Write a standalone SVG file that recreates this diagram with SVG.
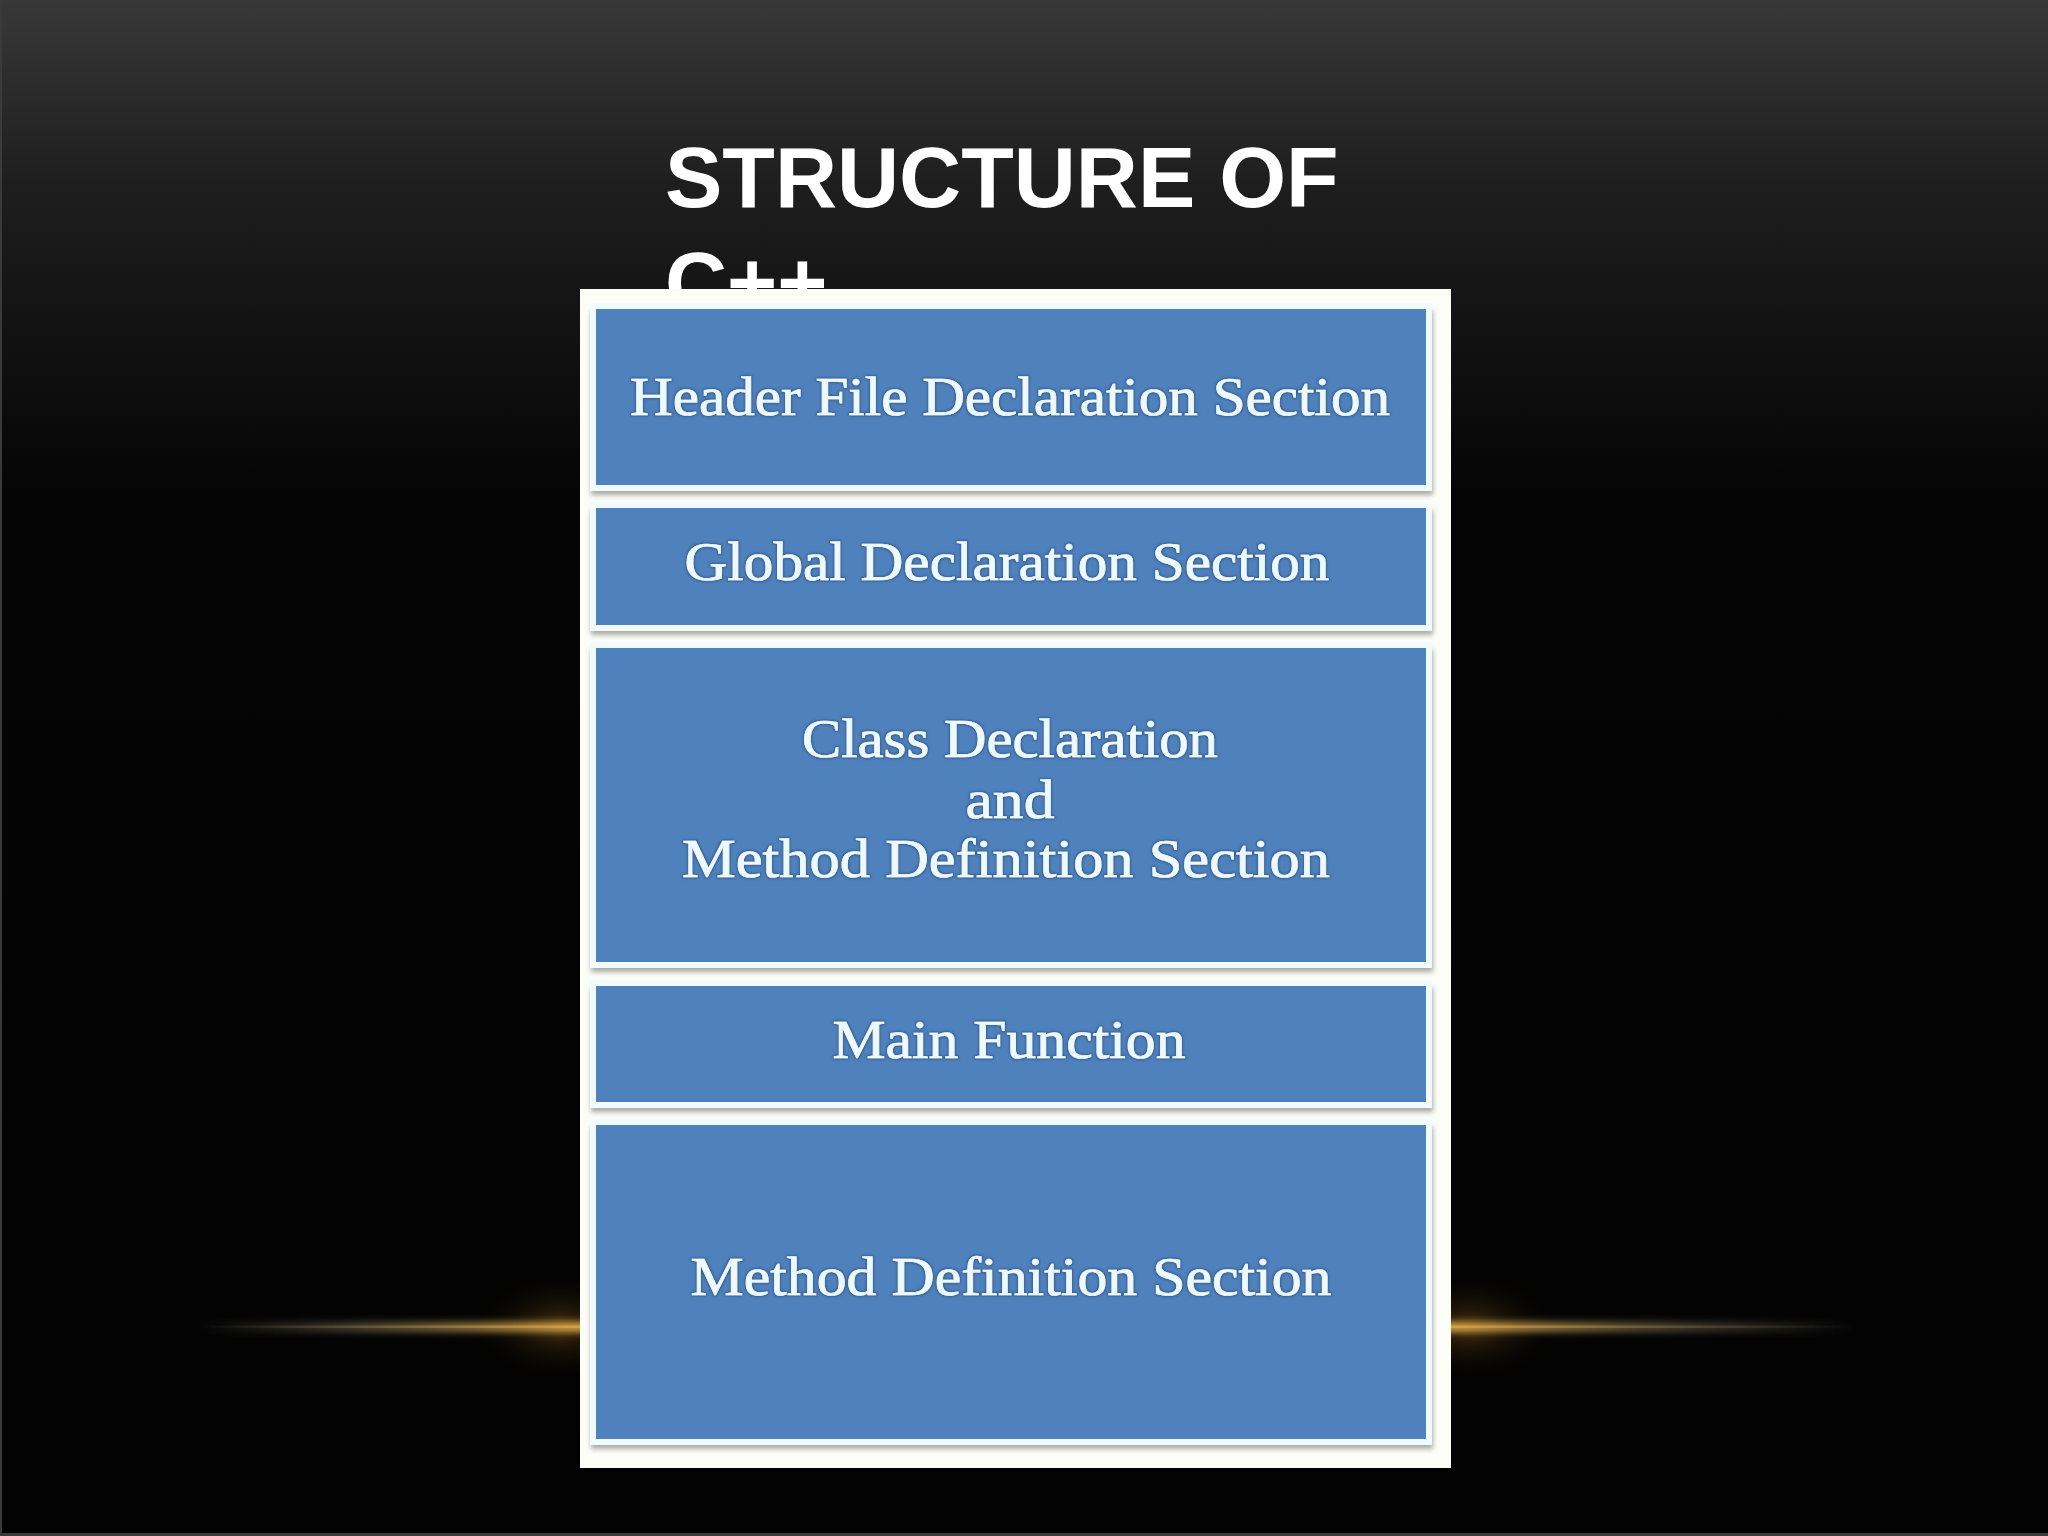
<svg xmlns="http://www.w3.org/2000/svg" width="2048" height="1536" viewBox="0 0 2048 1536">
  <defs>
    <linearGradient id="bg" x1="0" y1="0" x2="0" y2="1536" gradientUnits="userSpaceOnUse">
      <stop offset="0" stop-color="#383838"/>
      <stop offset="0.12" stop-color="#1e1e1e"/>
      <stop offset="0.32" stop-color="#050505"/>
      <stop offset="1" stop-color="#030303"/>
    </linearGradient>
    <linearGradient id="glowL" x1="196" y1="0" x2="580" y2="0" gradientUnits="userSpaceOnUse">
      <stop offset="0" stop-color="#6a6a6a" stop-opacity="0"/>
      <stop offset="0.45" stop-color="#8a7a50" stop-opacity="0.55"/>
      <stop offset="1" stop-color="#d9a445" stop-opacity="1"/>
    </linearGradient>
    <linearGradient id="glowR" x1="1451" y1="0" x2="1857" y2="0" gradientUnits="userSpaceOnUse">
      <stop offset="0" stop-color="#d9a445" stop-opacity="1"/>
      <stop offset="0.5" stop-color="#8a7a50" stop-opacity="0.55"/>
      <stop offset="1" stop-color="#6a6a6a" stop-opacity="0"/>
    </linearGradient>
    <radialGradient id="halo" cx="0.5" cy="0.5" r="0.5">
      <stop offset="0" stop-color="#9a6618" stop-opacity="0.45"/>
      <stop offset="0.5" stop-color="#5a3c10" stop-opacity="0.18"/>
      <stop offset="1" stop-color="#000" stop-opacity="0"/>
    </radialGradient>
    <filter id="blur4" x="-20%" y="-300%" width="140%" height="700%">
      <feGaussianBlur stdDeviation="3.5"/>
    </filter>
    <filter id="shadow" x="-5%" y="-10%" width="110%" height="130%">
      <feGaussianBlur stdDeviation="2.5"/>
    </filter>
    <filter id="txtglow" x="-5%" y="-30%" width="110%" height="160%">
      <feMorphology in="SourceAlpha" operator="dilate" radius="1" result="d"/>
      <feGaussianBlur in="d" stdDeviation="1.2" result="b"/>
      <feFlood flood-color="#2e5688" flood-opacity="0.8"/>
      <feComposite in2="b" operator="in" result="s"/>
      <feMerge><feMergeNode in="s"/><feMergeNode in="SourceGraphic"/></feMerge>
    </filter>
  </defs>
  <style>
    .title { font-family: "Liberation Sans", Arial, sans-serif; font-weight: bold; font-size: 86px; fill: #ffffff; }
    .frame { fill: #f1fafc; }
    .shade { fill: #a9aaa2; }
    .box { fill: #4f81bd; }
    .lbl { font-family: "Liberation Serif", "Times New Roman", serif; font-size: 55px; fill: #eef9fc; stroke: #eef9fc; stroke-width: 0.7; text-anchor: middle; }
  </style>

  <!-- background -->
  <rect x="0" y="0" width="2048" height="1536" fill="url(#bg)"/>
  <rect x="0" y="0" width="2" height="1536" fill="#3a3a3a"/>
  <rect x="0" y="1533" width="2048" height="3" fill="#3a3a3a"/>

  <!-- golden glow line -->
  <ellipse cx="560" cy="1327" rx="90" ry="55" fill="url(#halo)"/>
  <ellipse cx="1470" cy="1327" rx="90" ry="55" fill="url(#halo)"/>
  <rect x="196" y="1322" width="390" height="10" fill="url(#glowL)" filter="url(#blur4)"/>
  <rect x="1445" y="1322" width="412" height="10" fill="url(#glowR)" filter="url(#blur4)"/>
  <rect x="196" y="1325.5" width="390" height="2.5" fill="url(#glowL)" opacity="0.8"/>
  <rect x="1445" y="1325.5" width="412" height="2.5" fill="url(#glowR)" opacity="0.8"/>

  <!-- title -->
  <text class="title" x="665" y="207">STRUCTURE OF</text>
  <text class="title" x="665" y="312">C++</text>

  <!-- panel -->
  <rect id="panel" x="580" y="289" width="871" height="1179" fill="#fdfdf8"/>

  <g id="node-header">
    <rect class="shade" x="591" y="311" width="842" height="184" filter="url(#shadow)"/>
    <rect class="frame" x="590" y="303" width="842" height="188"/>
    <rect class="box" x="596" y="309" width="830" height="176"/>
    <text class="lbl" x="1010" y="415" textLength="760" lengthAdjust="spacingAndGlyphs" filter="url(#txtglow)">Header File Declaration Section</text>
  </g>

  <g id="node-global">
    <rect class="shade" x="591" y="510" width="842" height="125" filter="url(#shadow)"/>
    <rect class="frame" x="590" y="502" width="842" height="129"/>
    <rect class="box" x="596" y="508" width="830" height="117"/>
    <text class="lbl" x="1007" y="580" textLength="645" lengthAdjust="spacingAndGlyphs" filter="url(#txtglow)">Global Declaration Section</text>
  </g>

  <g id="node-class">
    <rect class="shade" x="591" y="650" width="842" height="322" filter="url(#shadow)"/>
    <rect class="frame" x="590" y="642" width="842" height="326"/>
    <rect class="box" x="596" y="648" width="830" height="314"/>
    <text class="lbl" x="1010" y="757" textLength="416" lengthAdjust="spacingAndGlyphs" filter="url(#txtglow)">Class Declaration</text>
    <text class="lbl" x="1010" y="818" textLength="89" lengthAdjust="spacingAndGlyphs" filter="url(#txtglow)">and</text>
    <text class="lbl" x="1006" y="877" textLength="648" lengthAdjust="spacingAndGlyphs" filter="url(#txtglow)">Method Definition Section</text>
  </g>

  <g id="node-main">
    <rect class="shade" x="591" y="988" width="842" height="124" filter="url(#shadow)"/>
    <rect class="frame" x="590" y="980" width="842" height="128"/>
    <rect class="box" x="596" y="986" width="830" height="116"/>
    <text class="lbl" x="1009" y="1058" textLength="353" lengthAdjust="spacingAndGlyphs" filter="url(#txtglow)">Main Function</text>
  </g>

  <g id="node-method">
    <rect class="shade" x="591" y="1127" width="842" height="322" filter="url(#shadow)"/>
    <rect class="frame" x="590" y="1119" width="842" height="326"/>
    <rect class="box" x="596" y="1125" width="830" height="314"/>
    <text class="lbl" x="1011" y="1295" textLength="641" lengthAdjust="spacingAndGlyphs" filter="url(#txtglow)">Method Definition Section</text>
  </g>

  <g id="connectors"></g>
</svg>
